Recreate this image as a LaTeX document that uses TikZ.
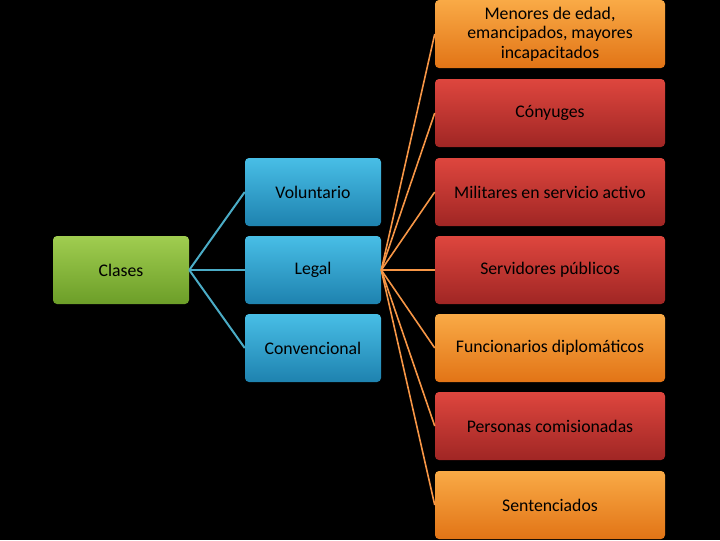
\documentclass[tikz,border=0pt]{standalone}
\usepackage{fontspec}
\setmainfont{Carlito}
\begin{document}
\begin{tikzpicture}[x=0.75pt,y=-0.75pt,
  box/.style={rounded corners=3pt,minimum width=102pt,minimum height=51pt,inner sep=1pt,align=center,font=\fontsize{13.3}{14.5}\selectfont,text=black},
  rbox/.style={box,minimum width=172.5pt},
  redb/.style={top color={rgb,255:red,222;green,70;blue,62},bottom color={rgb,255:red,160;green,38;blue,36}},
  orb/.style={top color={rgb,255:red,249;green,170;blue,70},bottom color={rgb,255:red,226;green,116;blue,22}},
  blb/.style={top color={rgb,255:red,72;green,190;blue,230},bottom color={rgb,255:red,30;green,130;blue,175}},
  grb/.style={top color={rgb,255:red,160;green,205;blue,80},bottom color={rgb,255:red,108;green,158;blue,40}},
  bl/.style={draw={rgb,255:red,75;green,172;blue,198},line width=1.5pt},
  ol/.style={draw={rgb,255:red,247;green,150;blue,70},line width=1.2pt}]
\fill[black] (0,0) rectangle (720,540);
\node[box,grb] (c) at (121,270) {Clases};
\node[box,blb] (v) at (313,192) {Voluntario};
\node[box,blb] (l) at (313,270) {Legal};
\node[box,blb] (k) at (313,348) {Convencional};
\node[rbox,orb] (r1) at (550,34) {Menores de edad,\\emancipados, mayores\\incapacitados};
\node[rbox,redb] (r2) at (550,113) {Cónyuges};
\node[rbox,redb] (r3) at (550,192) {Militares en servicio activo};
\node[rbox,redb] (r4) at (550,270) {Servidores públicos};
\node[rbox,orb] (r5) at (550,348) {Funcionarios diplomáticos};
\node[rbox,redb] (r6) at (550,426) {Personas comisionadas};
\node[rbox,orb] (r7) at (550,505) {Sentenciados};
\foreach \n in {v,l,k} \draw[bl] (c.east) -- (\n.west);
\foreach \n in {r1,r2,r3,r4,r5,r6,r7} \draw[ol] (l.east) -- (\n.west);
\end{tikzpicture}
\end{document}
